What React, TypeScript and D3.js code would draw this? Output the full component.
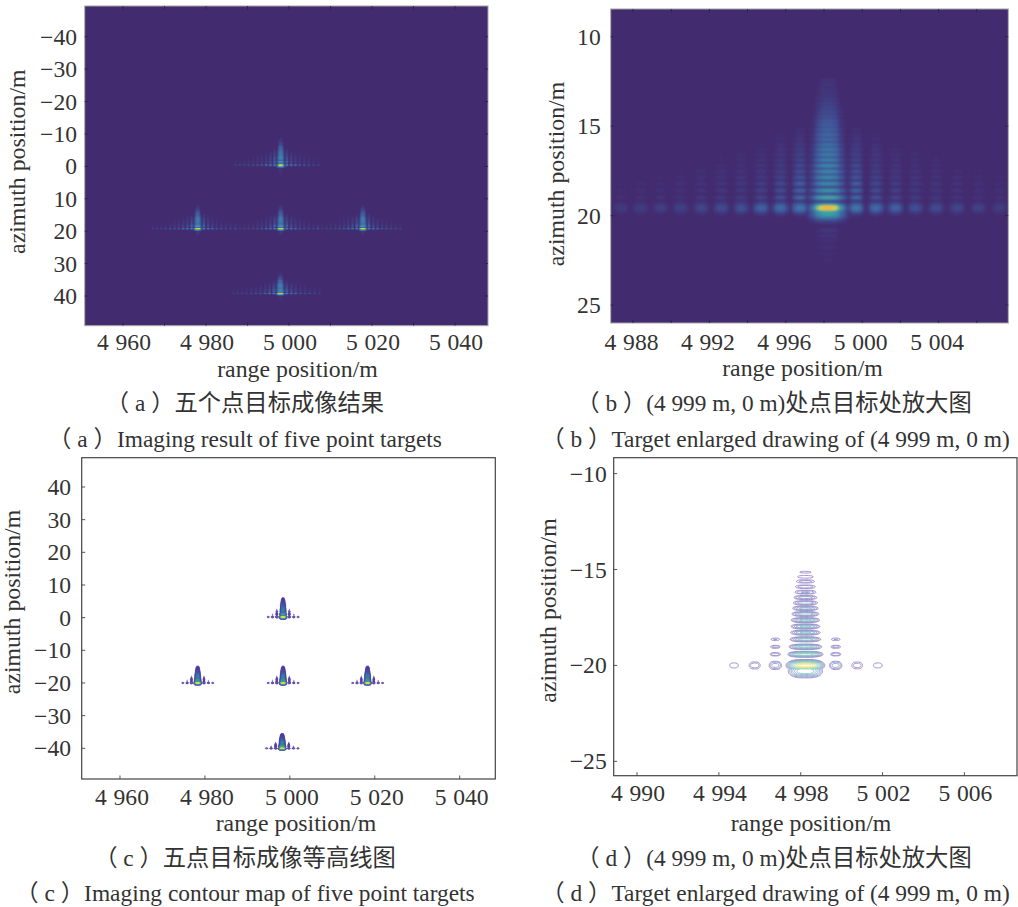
import { useMemo } from "react";
import * as d3 from "d3";

const FONT = '"Liberation Serif", "Noto Sans CJK SC", serif';
const TEXT = "#333";

// lobes of one point target, metres from the peak
const rangeLobeOffsets = [-10.85, -9.8, -8.76, -7.71, -6.63, -5.58, -4.54, -3.49, -2.48, -1.47, 1.48, 2.53, 3.54, 4.59, 5.67, 6.77, 7.9, 8.99];
const rangeLobeAmps = [0.06, 0.07, 0.08, 0.09, 0.11, 0.13, 0.15, 0.235, 0.29, 0.34, 0.34, 0.28, 0.235, 0.15, 0.13, 0.11, 0.09, 0.07];
const rangeLobeUpper = [0.025, 0.03, 0.03, 0.04, 0.05, 0.065, 0.08, 0.11, 0.17, 0.3, 0.3, 0.17, 0.11, 0.08, 0.065, 0.05, 0.04, 0.03];
const rangeLobeRows = [4, 5, 6, 7, 8, 9, 10, 11, 13, 15, 15, 13, 11, 10, 9, 8, 7, 6];
const azimuthRowOffsets = [0.58, 0.97, 1.36, 1.71, 2.03, 2.36, 2.68, 2.98, 3.26, 3.54, 3.82, 4.1, 4.38, 4.62, 4.86, 5.12, 5.36, 5.6, 5.83, 6.09, 6.33, 6.6, 6.88, 7.12];
const azimuthRowAmps = [0.62, 0.52, 0.46, 0.44, 0.44, 0.45, 0.42, 0.39, 0.36, 0.34, 0.31, 0.29, 0.27, 0.24, 0.21, 0.17, 0.14, 0.12, 0.1, 0.08, 0.06, 0.05, 0.04, 0.03];
const sideRowRelative = [1, 0.95, 0.88, 0.68, 0.62, 0.56, 0.5, 0.44, 0.38, 0.32, 0.27, 0.22, 0.18, 0.14, 0.1];
const belowRowOffsets = [1.25, 1.55, 1.85, 2.2, 2.55, 2.9];
const belowRowAmps = [0.07, 0.05, 0.035, 0.03, 0.025, 0.02];

// target positions per panel
const targetsA = [[4998, -0.4], [4978, 19.2], [4998, 19.2], [5017.8, 19.2], [4997.9, 39.2]];
const targetB = [[4998.2, 19.57]];
const targetsC = [[4998.4, 0.2], [4978.3, -20], [4998.4, -20], [5018.3, -20], [4998.2, -40]];
const targetD = [[4998.23, -20]];
const targetHeight = [1.15, 1, 1, 1, 0.88];
const targetWidth = [1, 1, 1, 1, 1.05];

const contourLevels = [0.19, 0.24, 0.3, 0.36, 0.42, 0.48, 0.56, 0.64, 0.72, 0.8, 0.88, 0.95];
const contourLevelsWide = [0.155, 0.19, 0.24, 0.3, 0.36, 0.42, 0.48, 0.56, 0.64, 0.72, 0.8, 0.88, 0.95];
const lineStops = [0.19, 0.3, 0.45, 0.65, 0.85, 0.95];
const lineColors = ["#5a35a0", "#3f5fa6", "#389aa5", "#5cb987", "#c9d650", "#f5dc3c"];
const heatStops = [0, 0.12, 0.3, 0.5, 0.68, 0.85, 1];
const heatColors = ["#432b6f", "#3f4a90", "#3e6fa6", "#389aa5", "#5cb987", "#e5d040", "#fdae20"];

const ticksA = { x: [4960, 4970, 4980, 4990, 5000, 5010, 5020, 5030, 5040], xLabels: [4960, 4980, 5000, 5020, 5040], y: [-40, -30, -20, -10, 0, 10, 20, 30, 40] };
const ticksB = { x: [4988, 4990, 4992, 4994, 4996, 4998, 5000, 5002, 5004, 5006], xLabels: [4988, 4992, 4996, 5000, 5004], y: [10, 15, 20, 25] };
const ticksC = { x: [4960, 4980, 5000, 5020, 5040], xLabels: [4960, 4980, 5000, 5020, 5040], y: [40, 30, 20, 10, 0, -10, -20, -30, -40] };
const ticksD = { x: [4990, 4994, 4998, 5002, 5006], xLabels: [4990, 4994, 4998, 5002, 5006], y: [-10, -15, -20, -25] };

const heat = d3.scaleLinear<string>().domain(heatStops).range(heatColors).clamp(true);
const lineColor = d3.scaleLinear<string>().domain(lineStops).range(lineColors).clamp(true);
const numberFormat = d3.formatLocale({ decimal: ".", thousands: "\u2009\u200a", grouping: [3], currency: ["", ""], minus: "\u2212" }).format(",");

// master grid of one target's response
const DR0 = -13, DR_STEP = 0.06, NR = 420;
const UP0 = -3.5, UP_STEP = 0.03, NU = 420;

function buildPsf() {
  const grid = new Float32Array(NR * NU);
  const addLobe = (dr: number, up: number, amp: number, w: number, sy: number) => {
    const i0 = Math.max(0, Math.floor((dr - w * 2 - DR0) / DR_STEP));
    const i1 = Math.min(NR - 1, Math.ceil((dr + w * 2 - DR0) / DR_STEP));
    const j0 = Math.max(0, Math.floor((up - sy * 4 - UP0) / UP_STEP));
    const j1 = Math.min(NU - 1, Math.ceil((up + sy * 4 - UP0) / UP_STEP));
    for (let j = j0; j <= j1; j++) {
      const v = (UP0 + j * UP_STEP - up) / sy;
      const gy = Math.exp(-0.5 * v * v);
      for (let i = i0; i <= i1; i++) {
        const u = Math.abs((DR0 + i * DR_STEP - dr) / w);
        const val = amp * gy * Math.exp(-u * u * u);
        const k = j * NR + i;
        if (val > grid[k]) grid[k] = val;
      }
    }
  };
  // main lobe and its column
  addLobe(0, 0, 1, 0.8, 0.17);
  addLobe(0, -0.3, 0.55, 0.82, 0.24);
  azimuthRowOffsets.forEach((up, j) => addLobe(0, up, azimuthRowAmps[j], 0.85 - up * 0.05, 0.1));
  belowRowOffsets.forEach((d, j) => addLobe(0, -d, belowRowAmps[j], 0.55, 0.07));
  // side columns
  rangeLobeOffsets.forEach((dr, c) => {
    addLobe(dr, 0, rangeLobeAmps[c], 0.36, 0.2);
    const rows = rangeLobeRows[c];
    for (let j = 0; j < rows; j++) {
      const amp = rangeLobeUpper[c] * sideRowRelative[j] * Math.sqrt(1 - j / rows);
      addLobe(dr, azimuthRowOffsets[j], amp, 0.33, 0.09);
    }
  });
  return grid;
}

const psf = buildPsf();

function samplePsf(dr: number, up: number) {
  const i = Math.round((dr - DR0) / DR_STEP);
  const j = Math.round((up - UP0) / UP_STEP);
  if (i < 0 || j < 0 || i >= NR || j >= NU) return 0;
  return psf[j * NR + i];
}

const psfValues = Array.from(psf);
const contourSet = d3.contours().size([NR, NU]).thresholds(contourLevels)(psfValues);
const contourSetWide = d3.contours().size([NR, NU]).thresholds(contourLevelsWide)(psfValues);

type Frame = { l: number; r: number; t: number; b: number };

const frameA = { l: 84.7, r: 488, t: 6, b: 325.7 };
const frameB = { l: 610.7, r: 1008.3, t: 9, b: 323 };
const frameC = { l: 81.7, r: 495.3, t: 457.7, b: 779 };
const frameD = { l: 613.7, r: 1017, t: 457.7, b: 775.7 };

function scalesFor(f: Frame, xd: number[], yd: number[]) {
  return {
    x: d3.scaleLinear().domain(xd).range([f.l, f.r]),
    y: d3.scaleLinear().domain(yd).range([f.t, f.b]),
  };
}

const scalesA = scalesFor(frameA, [4950.77, 5047.95], [-49.47, 49.16]);
const scalesB = scalesFor(frameB, [4986.83, 5007.65], [8.45, 26.0]);
const scalesC = scalesFor(frameC, [4950.98, 5048.39], [48.97, -49.4]);
const scalesD = scalesFor(frameD, [4988.86, 5008.57], [-9.17, -25.75]);

function HeatCells({ frame, scales, targets, sub, gain, id }: any) {
  const cells = useMemo(() => {
    const out: { x: number; y: number; v: number }[] = [];
    for (let px = Math.floor(frame.l); px < frame.r; px++) {
      for (let py = Math.floor(frame.t); py < frame.b; py++) {
        let v = 0;
        for (let sx = 0; sx < sub; sx++) {
          for (let sy = 0; sy < sub; sy++) {
            const xv = scales.x.invert(px + (sx + 0.5) / sub);
            const yv = scales.y.invert(py + (sy + 0.5) / sub);
            targets.forEach((t: number[], k: number) => {
              const h = targets.length > 1 ? targetHeight[k] : 1;
              const w = targets.length > 1 ? targetWidth[k] : 1;
              const val = samplePsf((xv - t[0]) / w, (t[1] - yv) / h);
              if (val > 0) v += val;
            });
          }
        }
        v = (v * gain) / (sub * sub);
        if (v > 0.012) out.push({ x: px, y: py, v });
      }
    }
    return out;
  }, []);
  return (
    <g clipPath={`url(#clip-${id})`}>
      <rect x={frame.l} y={frame.t} width={frame.r - frame.l} height={frame.b - frame.t} fill={heatColors[0]} />
      <g filter={`url(#soft-${id})`}>
        {cells.map((c, i) => (
          <rect key={i} x={c.x} y={c.y} width={1} height={1} fill={heat(c.v)} shapeRendering="crispEdges" />
        ))}
      </g>
    </g>
  );
}

function ContourLines({ scales, targets, contours, id, width, fade, fillFrom }: any) {
  return (
    <g clipPath={`url(#clip-${id})`} strokeWidth={width}>
      {targets.map((t: number[], k: number) => {
        const h = targets.length > 1 ? targetHeight[k] : 1;
        const w = targets.length > 1 ? targetWidth[k] : 1;
        const path = d3.geoPath(
          d3.geoTransform({
            point(i: number, j: number) {
              const dr = DR0 + (i - 0.5) * DR_STEP;
              const up = UP0 + (j - 0.5) * UP_STEP;
              (this as any).stream.point(scales.x(t[0] + dr * w), scales.y(t[1] + up * h));
            },
          })
        );
        return contours.map((c: any) => {
          const color = d3.interpolateRgb(lineColor(c.value), "#ffffff")(fade);
          return (
            <path key={`${k}-${c.value}`} d={path(c) ?? ""} stroke={color} fill={c.value >= fillFrom ? color : "none"} />
          );
        });
      })}
    </g>
  );
}

function Axes({ frame, scales, ticks, box, tickLabelX, tickBase, labelDx, xLabel, yLabel, light }: any) {
  const { l, r, t, b } = frame;
  const len = 3.5;
  return (
    <g fontFamily={FONT} fill={TEXT}>
      <rect x={l} y={t} width={r - l} height={b - t} fill="none" stroke={light ? "#a3a3a3" : "#444"} strokeWidth={light ? 1 : 1.2} />
      <g stroke={light ? "#2d2450" : "#444"} strokeWidth={0.9}>
        {ticks.x.map((d: number) => (
          <g key={d}>
            <line x1={scales.x(d)} x2={scales.x(d)} y1={b} y2={b - len} />
            {box && <line x1={scales.x(d)} x2={scales.x(d)} y1={t} y2={t + len} />}
          </g>
        ))}
        {ticks.y.map((d: number) => (
          <g key={d}>
            <line x1={l} x2={l + len} y1={scales.y(d)} y2={scales.y(d)} />
            {box && <line x1={r} x2={r - len} y1={scales.y(d)} y2={scales.y(d)} />}
          </g>
        ))}
      </g>
      <g fontSize={23.6} textAnchor="middle">
        {ticks.xLabels.map((d: number) => (
          <text key={d} x={scales.x(d) + labelDx} y={tickBase}>
            {numberFormat(d)}
          </text>
        ))}
      </g>
      <g fontSize={23.6} textAnchor="end">
        {ticks.y.map((d: number) => (
          <text key={d} x={tickLabelX} y={scales.y(d) + 8}>
            {numberFormat(d)}
          </text>
        ))}
      </g>
      <text x={xLabel[0]} y={xLabel[1]} fontSize={23.8} textAnchor="middle">range position/m</text>
      <text transform={`translate(${yLabel[0]},${yLabel[1]}) rotate(-90)`} fontSize={23.8} textAnchor="middle">azimuth position/m</text>
    </g>
  );
}

function Caption({ x, y, children, size }: any) {
  return (
    <text x={x} y={y} fontFamily={FONT} fontSize={size} fill={TEXT} textAnchor="middle">
      {children}
    </text>
  );
}

export default function App() {
  return (
    <svg width={1018} height={907} style={{ position: "absolute", left: 0, top: 0, background: "#fff" }}>
      <defs>
        <filter id="soft-a" x="-5%" y="-5%" width="110%" height="110%">
          <feGaussianBlur stdDeviation={0.7} />
        </filter>
        <filter id="soft-b" x="-5%" y="-5%" width="110%" height="110%">
          <feGaussianBlur stdDeviation={0.9} />
        </filter>
        {[["a", frameA], ["b", frameB], ["c", frameC], ["d", frameD]].map(([id, f]: any) => (
          <clipPath key={id} id={`clip-${id}`}>
            <rect x={f.l} y={f.t} width={f.r - f.l} height={f.b - f.t} />
          </clipPath>
        ))}
      </defs>

      <HeatCells id="a" frame={frameA} scales={scalesA} targets={targetsA} sub={3} gain={1.2} />
      <Axes frame={frameA} scales={scalesA} ticks={ticksA} box light tickLabelX={77} tickBase={350} labelDx={1} xLabel={[297.5, 376.7]} yLabel={[24.5, 161.7]} />
      <Caption x={245} y={411} size={23.3}>（ a ）五个点目标成像结果</Caption>
      <Caption x={245} y={447} size={23.4}>（ a ）Imaging result of five point targets</Caption>

      <HeatCells id="b" frame={frameB} scales={scalesB} targets={targetB} sub={1} gain={1} />
      <Axes frame={frameB} scales={scalesB} ticks={ticksB} box light tickLabelX={600.7} tickBase={349.5} labelDx={-1.5} xLabel={[802.5, 375.5]} yLabel={[564, 174]} />
      <Caption x={774} y={411} size={23.3}>（ b ）(4 999 m, 0 m)处点目标处放大图</Caption>
      <Caption x={775.5} y={447} size={23.4}>（ b ）Target enlarged drawing of (4 999 m, 0 m)</Caption>

      <ContourLines id="c" scales={scalesC} targets={targetsC} contours={contourSetWide} width={0.7} fade={0} fillFrom={0.48} />
      <Axes frame={frameC} scales={scalesC} ticks={ticksC} tickLabelX={71} tickBase={804.7} labelDx={2} xLabel={[296, 830.7]} yLabel={[20, 602]} />
      <Caption x={245} y={865.7} size={23.3}>（ c ）五点目标成像等高线图</Caption>
      <Caption x={245} y={901} size={23.4}>（ c ）Imaging contour map of five point targets</Caption>

      <ContourLines id="d" scales={scalesD} targets={targetD} contours={contourSet} width={0.9} fade={0.4} fillFrom={2} />
      <Axes frame={frameD} scales={scalesD} ticks={ticksD} tickLabelX={606.7} tickBase={801.3} labelDx={1} xLabel={[811, 830.7]} yLabel={[555.7, 610.5]} />
      <Caption x={774} y={865.7} size={23.3}>（ d ）(4 999 m, 0 m)处点目标处放大图</Caption>
      <Caption x={775.5} y={901} size={23.4}>（ d ）Target enlarged drawing of (4 999 m, 0 m)</Caption>
    </svg>
  );
}
